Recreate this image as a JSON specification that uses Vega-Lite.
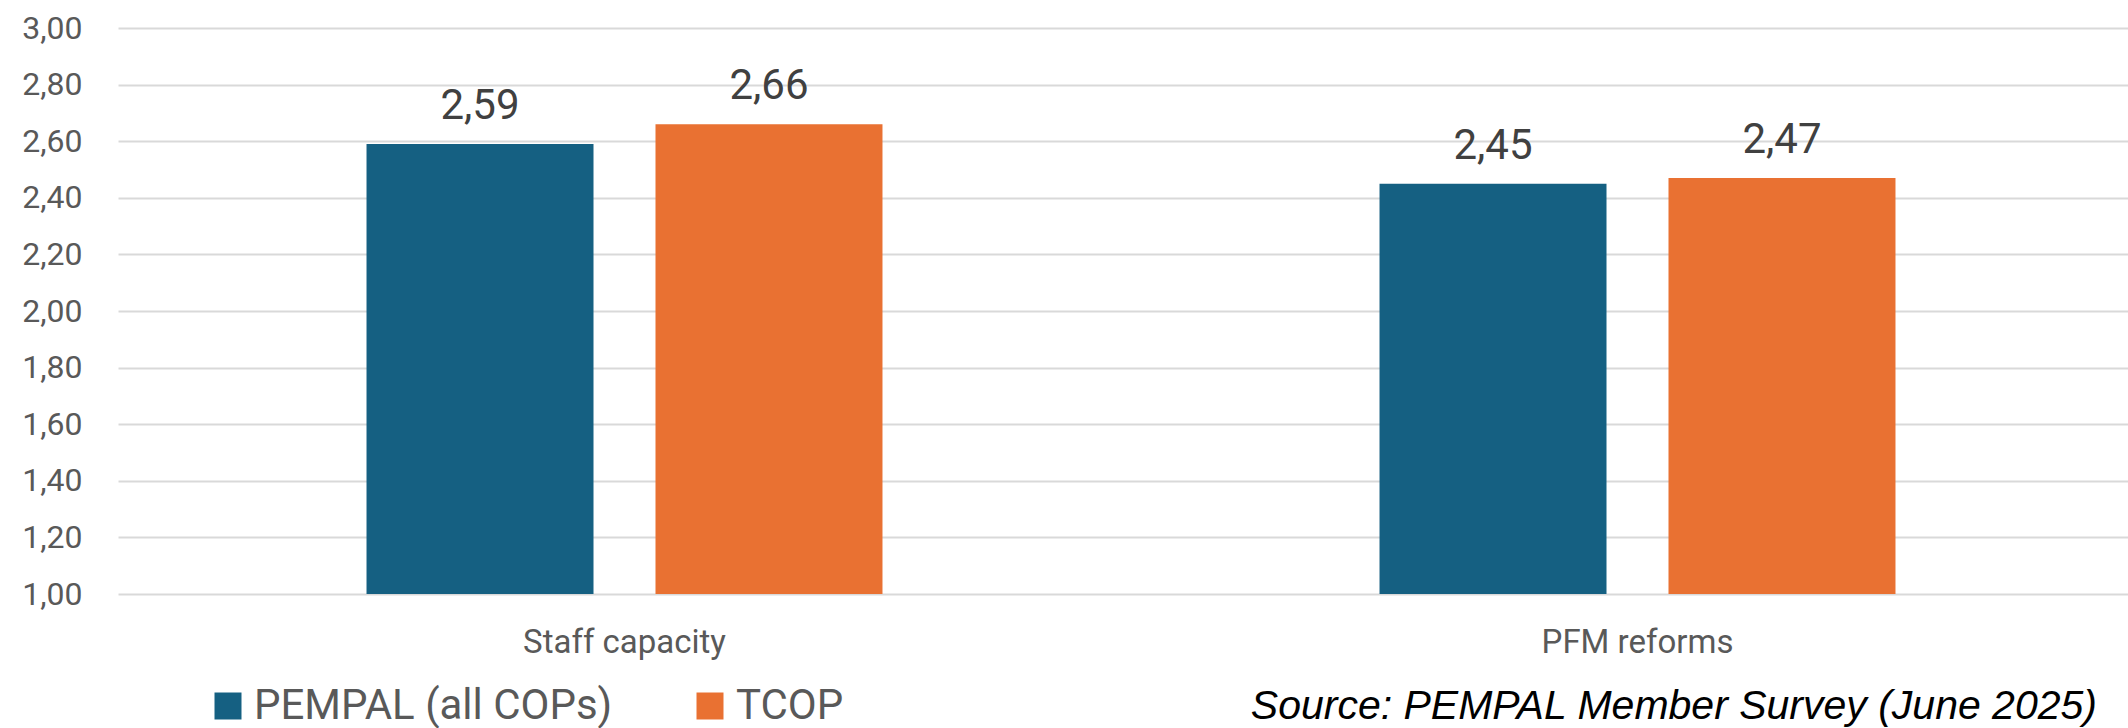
{
  "$schema": "https://vega.github.io/schema/vega-lite/v6.json",
  "autosize": {"type": "none"},
  "padding": {"left": 118, "top": 28, "right": 0, "bottom": 134},
  "width": 2026,
  "height": 566,
  "background": "white",
  "title": {
    "text": "Source: PEMPAL Member Survey (June 2025)",
    "orient": "bottom",
    "anchor": "end",
    "baseline": "alphabetic",
    "font": "Liberation Sans",
    "fontStyle": "italic",
    "fontWeight": "normal",
    "fontSize": 41,
    "color": "#000000",
    "offset": -8,
    "dx": -47
  },
  "config": {
    "locale": {"number": {"decimal": ",", "thousands": ".", "grouping": [3], "currency": ["", " €"]}},
    "view": {"stroke": null},
    "font": "Roboto"
  },
  "data": {
    "values": [
      {"category": "Staff capacity", "series": "PEMPAL (all COPs)", "value": 2.59},
      {"category": "Staff capacity", "series": "TCOP", "value": 2.66},
      {"category": "PFM reforms", "series": "PEMPAL (all COPs)", "value": 2.45},
      {"category": "PFM reforms", "series": "TCOP", "value": 2.47}
    ]
  },
  "encoding": {
    "x": {
      "field": "category",
      "type": "nominal",
      "sort": ["Staff capacity", "PFM reforms"],
      "scale": {"paddingInner": 0, "paddingOuter": 0},
      "axis": {
        "title": null,
        "labelAngle": 0,
        "domain": false,
        "ticks": false,
        "tickSize": 0,
        "labelPadding": 58,
        "labelBaseline": "alphabetic",
        "labelFontSize": 33,
        "labelColor": "#595959",
        "labelFont": "Roboto",
        "labelLimit": 600
      }
    },
    "xOffset": {
      "field": "series",
      "type": "nominal",
      "sort": ["PEMPAL (all COPs)", "TCOP"],
      "scale": {"paddingInner": 0.2145, "paddingOuter": 0.86}
    },
    "y": {
      "field": "value",
      "type": "quantitative",
      "scale": {"domain": [1, 3], "nice": false, "zero": false},
      "axis": {
        "title": null,
        "values": [1, 1.2, 1.4, 1.6, 1.8, 2, 2.2, 2.4, 2.6, 2.8, 3],
        "format": ".2f",
        "domain": false,
        "ticks": false,
        "tickSize": 0,
        "labelPadding": 36,
        "labelFontSize": 32,
        "labelColor": "#595959",
        "labelFont": "Roboto",
        "gridColor": "#d9d9d9",
        "gridWidth": 2
      }
    }
  },
  "layer": [
    {
      "mark": {"type": "bar"},
      "encoding": {
        "y2": {"datum": 1},
        "color": {
          "field": "series",
          "type": "nominal",
          "sort": ["PEMPAL (all COPs)", "TCOP"],
          "scale": {"domain": ["PEMPAL (all COPs)", "TCOP"], "range": ["#156082", "#E97132"]},
          "legend": {
            "title": null,
            "orient": "none",
            "direction": "horizontal",
            "legendX": 89,
            "legendY": 657,
            "padding": 0,
            "symbolType": "square",
            "symbolSize": 729,
            "symbolStrokeWidth": 0,
            "symbolOpacity": 1,
            "labelFontSize": 42,
            "labelFont": "Roboto",
            "labelColor": "#595959",
            "labelOffset": 5,
            "columnPadding": 76,
            "labelLimit": 600
          }
        }
      }
    },
    {
      "mark": {"type": "text", "baseline": "alphabetic", "dy": -25, "fontSize": 42, "font": "Roboto", "color": "#404040"},
      "encoding": {
        "text": {"field": "value", "type": "quantitative", "format": ".2f"}
      }
    }
  ]
}
